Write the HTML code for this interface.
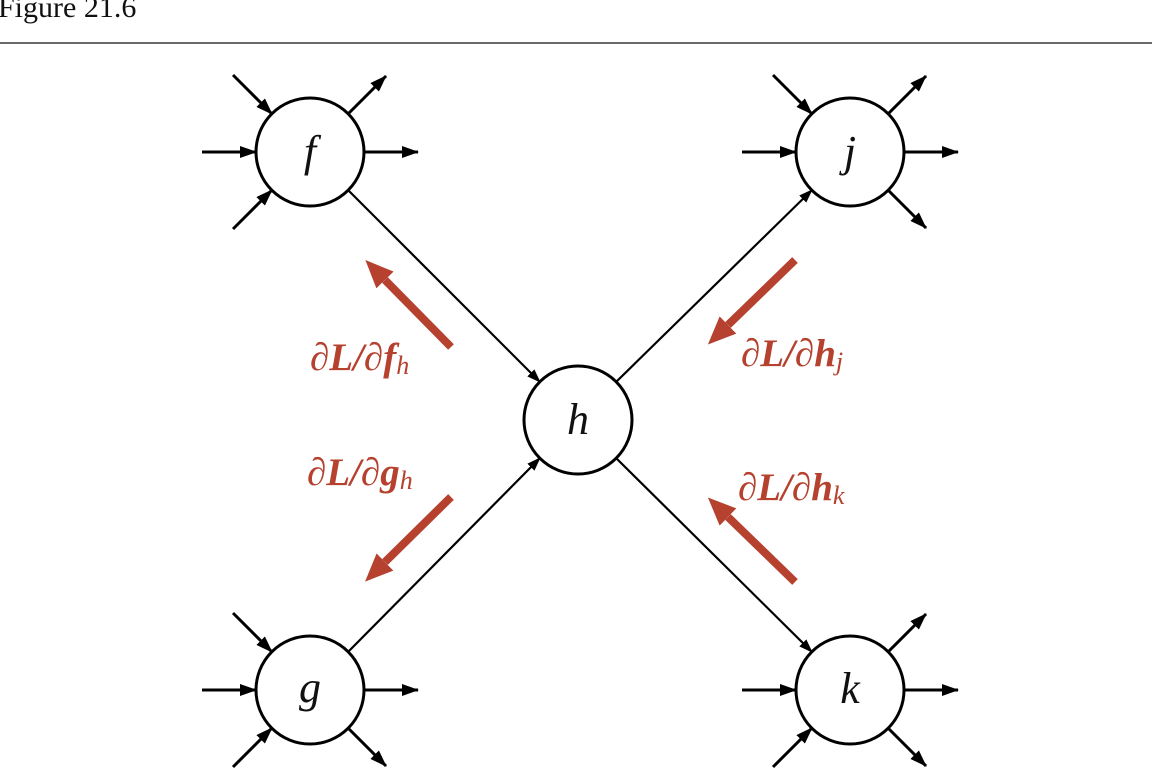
<!DOCTYPE html>
<html><head><meta charset="utf-8"><style>
html,body{margin:0;padding:0;background:#fff;}
svg{display:block;}
</style></head><body>
<svg width="1152" height="774" viewBox="0 0 1152 774" xmlns="http://www.w3.org/2000/svg">
<defs>
<marker id="a" markerUnits="userSpaceOnUse" markerWidth="17" markerHeight="12" refX="16" refY="6" orient="auto"><path d="M0,0 L17,6 L0,12 z" fill="#000"/></marker>
<marker id="e" markerUnits="userSpaceOnUse" markerWidth="14" markerHeight="10" refX="13" refY="5" orient="auto"><path d="M0,0 L14,5 L0,10 z" fill="#000"/></marker>
<marker id="r" markerUnits="userSpaceOnUse" markerWidth="28" markerHeight="24" refX="0" refY="12" orient="auto"><path d="M0,0 L28,12 L0,24 z" fill="#b5412e"/></marker>
</defs>
<text x="-2" y="17" font-family="Liberation Serif, serif" font-size="30" fill="#111">Figure 21.6</text>
<rect x="0" y="42" width="1152" height="2" fill="#6a6a6a"/>

<g stroke="#000" stroke-width="2.2" fill="none">
<line x1="348" y1="190" x2="540" y2="382" marker-end="url(#e)"/>
<line x1="616" y1="382" x2="812" y2="190" marker-end="url(#e)"/>
<line x1="348" y1="652" x2="540" y2="458" marker-end="url(#e)"/>
<line x1="616" y1="458" x2="812" y2="652" marker-end="url(#e)"/>
</g>

<g stroke="#000" stroke-width="3" fill="none">
<line x1="233" y1="75" x2="272" y2="114" marker-end="url(#a)"/>
<line x1="202" y1="152" x2="256" y2="152" marker-end="url(#a)"/>
<line x1="233" y1="229" x2="272" y2="190" marker-end="url(#a)"/>
<line x1="364" y1="152" x2="418" y2="152" marker-end="url(#a)"/>
<line x1="348" y1="114" x2="386" y2="76" marker-end="url(#a)"/>
<line x1="773" y1="75" x2="812" y2="114" marker-end="url(#a)"/>
<line x1="742" y1="152" x2="796" y2="152" marker-end="url(#a)"/>
<line x1="904" y1="152" x2="958" y2="152" marker-end="url(#a)"/>
<line x1="888" y1="114" x2="926" y2="76" marker-end="url(#a)"/>
<line x1="888" y1="190" x2="926" y2="228" marker-end="url(#a)"/>
<line x1="233" y1="613" x2="272" y2="652" marker-end="url(#a)"/>
<line x1="202" y1="690" x2="256" y2="690" marker-end="url(#a)"/>
<line x1="233" y1="767" x2="272" y2="728" marker-end="url(#a)"/>
<line x1="364" y1="690" x2="418" y2="690" marker-end="url(#a)"/>
<line x1="348" y1="728" x2="386" y2="766" marker-end="url(#a)"/>
<line x1="742" y1="690" x2="796" y2="690" marker-end="url(#a)"/>
<line x1="773" y1="767" x2="812" y2="728" marker-end="url(#a)"/>
<line x1="904" y1="690" x2="958" y2="690" marker-end="url(#a)"/>
<line x1="888" y1="652" x2="926" y2="614" marker-end="url(#a)"/>
<line x1="888" y1="728" x2="926" y2="766" marker-end="url(#a)"/>
</g>

<g stroke="#000" stroke-width="3" fill="#fff">
<circle cx="310" cy="152" r="54"/>
<circle cx="850" cy="152" r="54"/>
<circle cx="310" cy="690" r="54"/>
<circle cx="850" cy="690" r="54"/>
<circle cx="578" cy="420" r="54"/>
</g>
<g font-family="Liberation Serif, serif" font-style="italic" font-size="44" fill="#111" text-anchor="middle">
<text x="310" y="166">f</text>
<text x="850" y="166">j</text>
<text x="310" y="702">g</text>
<text x="850" y="703">k</text>
<text x="578" y="434">h</text>
</g>

<g stroke="#b5412e" stroke-width="8" fill="none">
<line x1="451" y1="347" x2="385" y2="280" marker-end="url(#r)"/>
<line x1="451" y1="497" x2="385" y2="562" marker-end="url(#r)"/>
<line x1="795" y1="260" x2="728" y2="325" marker-end="url(#r)"/>
<line x1="795" y1="582" x2="728" y2="517" marker-end="url(#r)"/>
</g>

<g font-family="Liberation Serif, serif" font-weight="bold" font-style="italic" font-size="39" fill="#b5412e">
<text x="310" y="370">∂L/∂f<tspan font-size="26" font-weight="normal" dy="4">h</tspan></text>
<text x="307" y="485">∂L/∂g<tspan font-size="26" font-weight="normal" dy="4">h</tspan></text>
<text x="741" y="366">∂L/∂h<tspan font-size="26" font-weight="normal" dy="4">j</tspan></text>
<text x="738" y="500">∂L/∂h<tspan font-size="26" font-weight="normal" dy="4">k</tspan></text>
</g>
</svg>
</body></html>
